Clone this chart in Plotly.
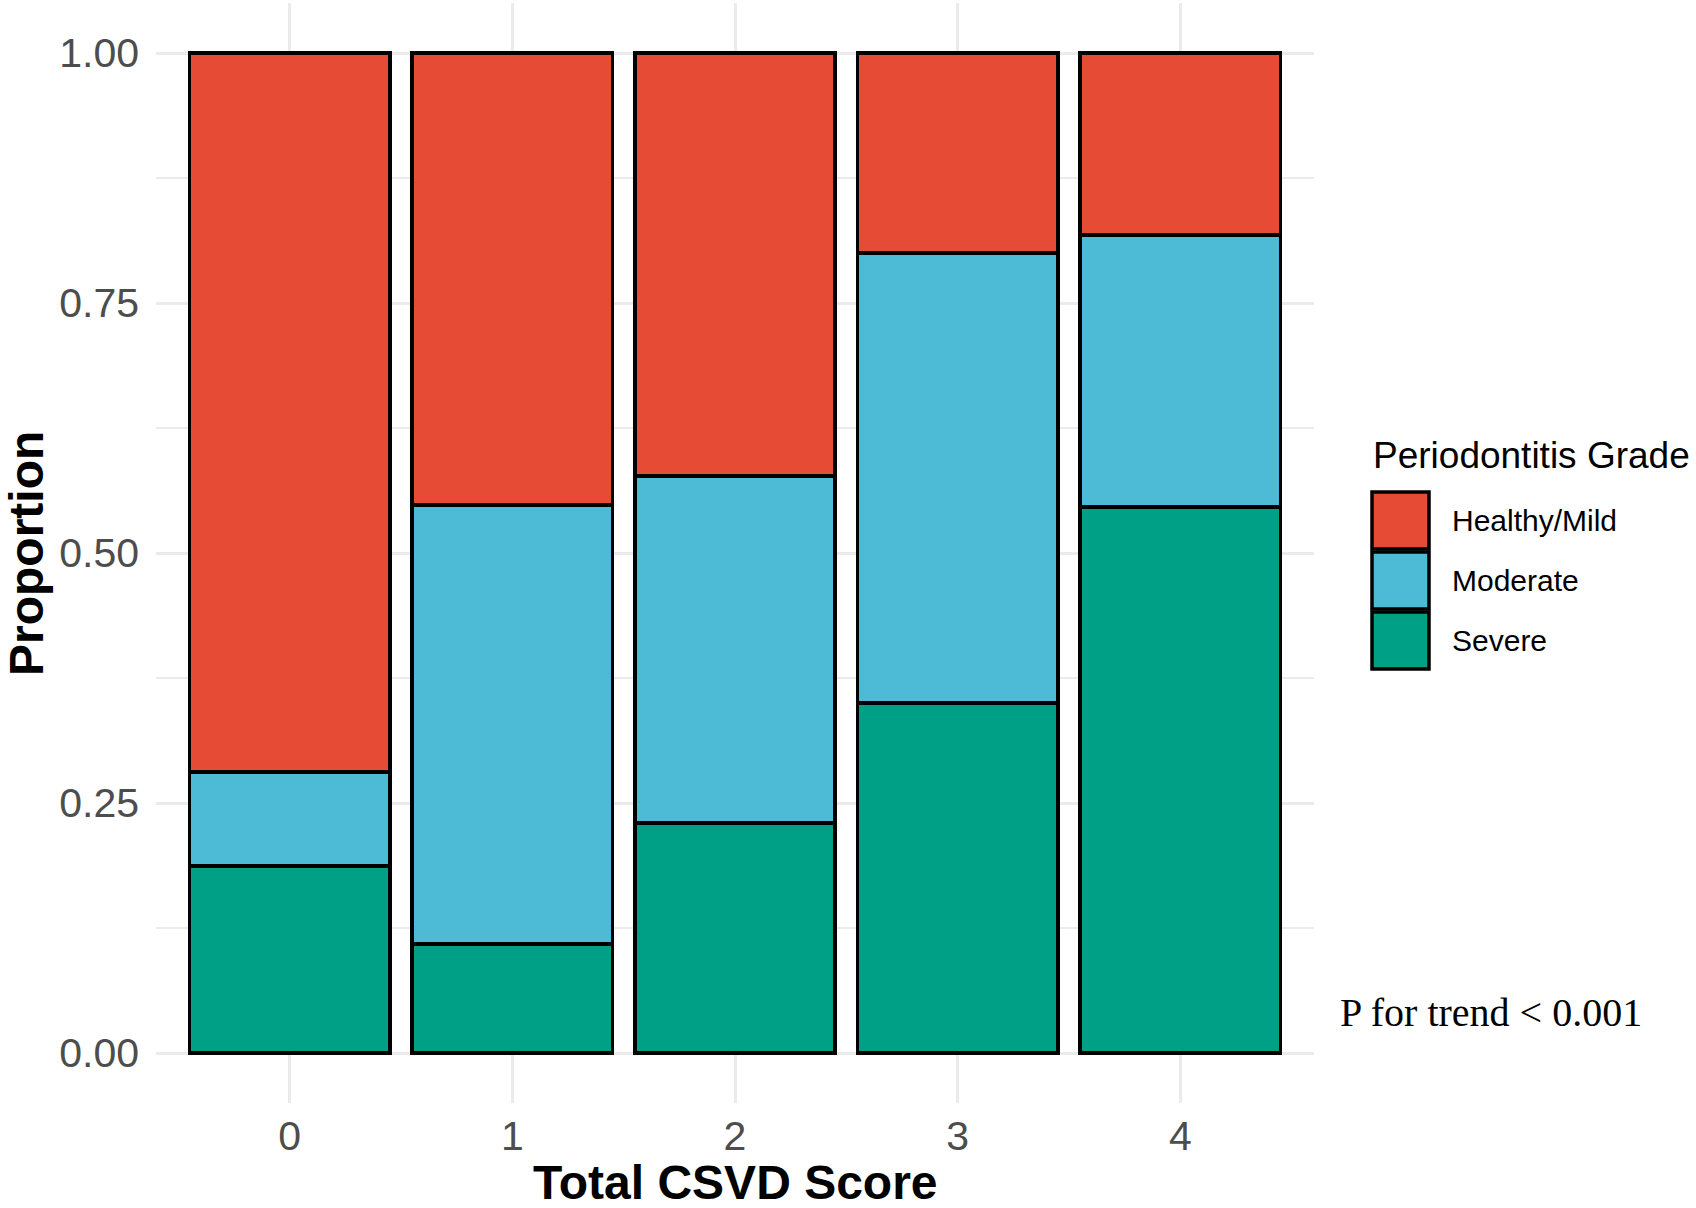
import plotly.graph_objects as go

# ---- data ----
categories = ["0", "1", "2", "3", "4"]
grades = ["Severe", "Moderate", "Healthy/Mild"]
severe = [0.187, 0.109, 0.230, 0.350, 0.546]
moderate = [0.094, 0.439, 0.347, 0.450, 0.272]
healthy = [round(1 - s - m, 3) for s, m in zip(severe, moderate)]
colors = {"Healthy/Mild": "#E64B35", "Moderate": "#4DBBD5", "Severe": "#00A087"}
legend_order = ["Healthy/Mild", "Moderate", "Severe"]
y_ticks = [0, 0.25, 0.5, 0.75, 1.0]
y_ticktext = ["0.00", "0.25", "0.50", "0.75", "1.00"]
annotation_text = "P for trend < 0.001"

W, H = 1696, 1208
ML, MR, MT, MB = 156, 382, 3, 105
PW, PH = W - ML - MR, H - MT - MB


def px_x(px):
    return (px - ML) / PW


def px_y(py):
    return (H - MB - py) / PH


series = {"Severe": severe, "Moderate": moderate, "Healthy/Mild": healthy}

fig = go.Figure()
for g in grades:
    fig.add_trace(go.Bar(
        x=[int(c) for c in categories], y=series[g], name=g,
        marker=dict(color=colors[g], line=dict(color="black", width=3.5)),
        width=0.9, showlegend=False,
    ))

fig.update_layout(
    barmode="stack",
    width=W, height=H,
    margin=dict(l=ML, r=MR, t=MT, b=MB),
    paper_bgcolor="white", plot_bgcolor="white",
    font=dict(family="Liberation Sans, Arial, sans-serif", color="#4D4D4D"),
    bargap=0.1,
)
fig.update_xaxes(
    range=[-0.6, 4.6], tickmode="array", tickvals=[0, 1, 2, 3, 4], ticktext=categories,
    showgrid=True, gridcolor="#EBEBEB", gridwidth=3, zeroline=False, showline=False,
    tickfont=dict(size=41, color="#4D4D4D"), ticks="", ticklabelstandoff=5,
)
fig.update_yaxes(
    range=[-0.05, 1.05], tickmode="array", tickvals=y_ticks, ticktext=y_ticktext,
    showgrid=True, gridcolor="#EBEBEB", gridwidth=3, zeroline=False, showline=False,
    minor=dict(tickvals=[0.125, 0.375, 0.625, 0.875], showgrid=True, gridcolor="#EBEBEB", gridwidth=1.8),
    tickfont=dict(size=41, color="#4D4D4D"), ticks="", ticklabelstandoff=16,
)

annotations = []
# axis titles
annotations.append(dict(text="<b>Total CSVD Score</b>", x=px_x(735), y=px_y(1182), xref="paper", yref="paper",
                        xanchor="center", yanchor="middle", showarrow=False,
                        font=dict(size=48, color="black", family="Liberation Sans, Arial, sans-serif")))
annotations.append(dict(text="<b>Proportion</b>", x=px_x(26), y=px_y(554), xref="paper", yref="paper",
                        xanchor="center", yanchor="middle", showarrow=False, textangle=-90,
                        font=dict(size=48, color="black", family="Liberation Sans, Arial, sans-serif")))
# legend title
annotations.append(dict(text="Periodontitis Grade", x=px_x(1371), y=px_y(455), xref="paper", yref="paper",
                        xanchor="left", yanchor="middle", showarrow=False,
                        font=dict(size=37, color="black")))
shapes = []
key_top = 492
key_h = 60
for i, g in enumerate(legend_order):
    y0 = key_top + i * key_h
    y1 = y0 + 57
    shapes.append(dict(type="rect", xref="paper", yref="paper",
                       x0=px_x(1372), x1=px_x(1429), y0=px_y(y1), y1=px_y(y0),
                       fillcolor=colors[g], line=dict(color="black", width=3.5)))
    annotations.append(dict(text=g, x=px_x(1450), y=px_y((y0 + y1) / 2), xref="paper", yref="paper",
                            xanchor="left", yanchor="middle", showarrow=False,
                            font=dict(size=30, color="black")))
# p-value note
annotations.append(dict(text=annotation_text, x=px_x(1338), y=px_y(1012), xref="paper", yref="paper",
                        xanchor="left", yanchor="middle", showarrow=False,
                        font=dict(size=40, color="black", family="Liberation Serif, Times New Roman, serif")))

fig.update_layout(annotations=annotations, shapes=shapes)
fig.write_html("out.html", config={"displayModeBar": False},
               post_script="document.body.style.margin='0px';document.body.style.overflow='hidden';")
